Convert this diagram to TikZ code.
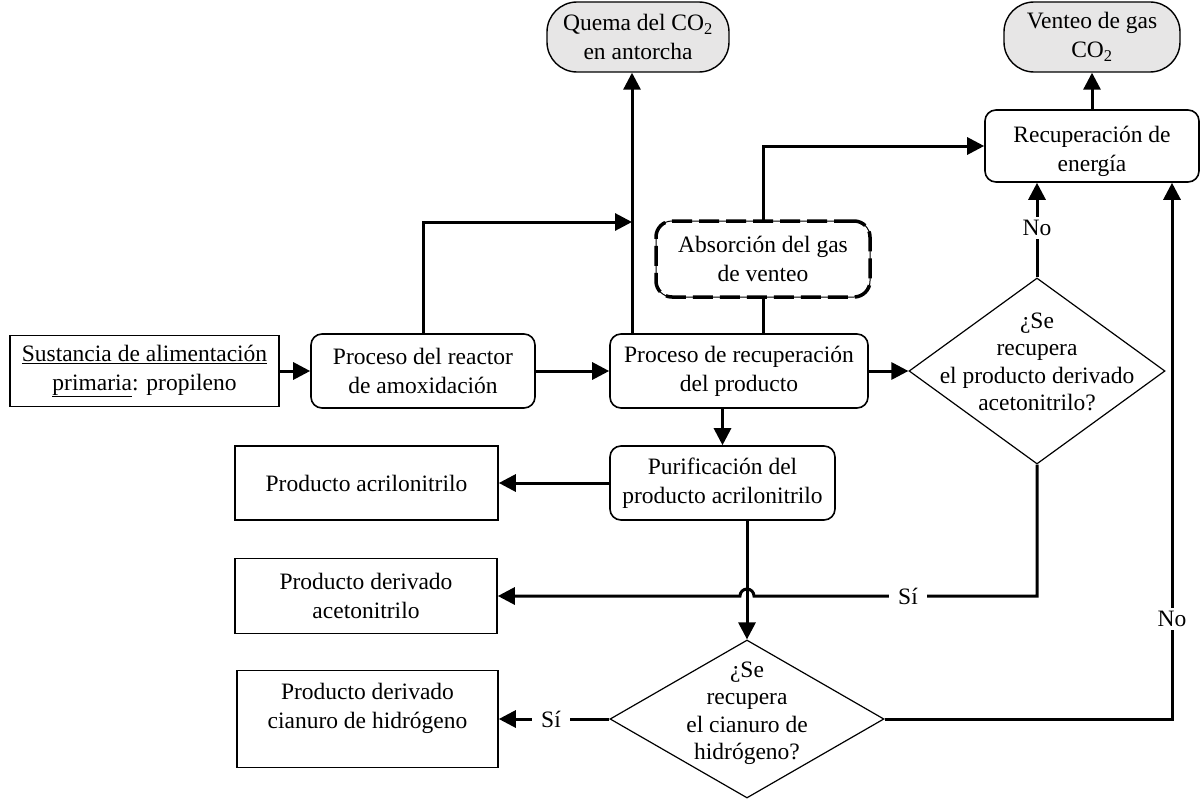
\documentclass[tikz,border=0pt]{standalone}
\usepackage{fontspec}
\setmainfont{Liberation Serif}
\usetikzlibrary{arrows.meta,shapes.geometric}
\definecolor{pillgray}{HTML}{E7E6E6}
\begin{document}
\begin{tikzpicture}[x=1pt,y=-1pt,
  every node/.style={font=\fontsize{23.5pt}{29pt}\selectfont, align=center, inner sep=0pt},
  dtext/.style={font=\fontsize{23.5pt}{27.5pt}\selectfont},
  plainbox/.style={draw, line width=1.6pt, rectangle},
  roundbox/.style={draw, line width=1.6pt, rounded corners=11pt},
  dashbox/.style={draw, line width=1pt, rounded corners=16pt,
    postaction={draw, line width=3.5pt, dash pattern=on 20pt off 7pt}},
  pill/.style={draw, line width=1.4pt, rounded corners=30pt, fill=pillgray},
  decision/.style={draw, diamond, line width=1.2pt, inner sep=0pt},
  conn/.style={line width=3pt},
  arr/.style={conn, -{Triangle[length=17pt,width=17pt]}},
  lbl/.style={fill=white, inner xsep=9pt, inner ysep=3pt},
]
\useasboundingbox (0,0) rectangle (1200,800);

% boxes
\node[plainbox, minimum width=269pt, minimum height=71pt] (sust) at (144.5,371) {\underline{Sustancia de alimentación}\\\underline{primaria}: propileno};
\node[roundbox, minimum width=224pt, minimum height=74pt] (reac) at (423,371) {Proceso del reactor\\de amoxidación};
\node[roundbox, minimum width=258pt, minimum height=74pt] (recup) at (739,371) {Proceso de recuperación\\del producto};
\node[roundbox, minimum width=225pt, minimum height=74pt] (purif) at (722.5,483) {Purificación del\\producto acrilonitrilo};
\node[dashbox, minimum width=214pt, minimum height=76pt] (absor) at (763,259) {Absorción del gas\\de venteo};
\node[roundbox, minimum width=214pt, minimum height=72pt] (energia) at (1092,146) {};
\node (energiat) at (1092,151) {Recuperación de\\energía};
\node[pill, minimum width=182pt, minimum height=70pt] (quema) at (638,37) {Quema del CO\textsubscript{2}\\en antorcha};
\node[pill, minimum width=176pt, minimum height=70pt] (venteo) at (1092,37) {Venteo de gas\\CO\textsubscript{2}};
\node[plainbox, minimum width=263pt, minimum height=74pt] (prod1) at (366.5,483) {Producto acrilonitrilo};
\node[plainbox, minimum width=262pt, minimum height=75pt] (prod2) at (366,596) {Producto derivado\\acetonitrilo};
\node[plainbox, minimum width=261pt, minimum height=97pt] (prod3) at (367.5,719) {};
\node (prod3t) at (367.5,708.5) {Producto derivado\\cianuro de hidrógeno};

% decisions
\node[decision, minimum width=256pt, minimum height=186pt] (d1) at (1037,371) {};
\node[dtext] (d1t) at (1037,362) {¿Se\\recupera\\el producto derivado\\acetonitrilo?};
\node[decision, minimum width=274pt, minimum height=158pt] (d2) at (747,719) {};
\node[dtext] (d2t) at (747,713) {¿Se\\recupera\\el cianuro de\\hidrógeno?};

% connectors
\coordinate (j1) at (632,222);
\draw[arr] (sust.east) -- (sust.east -| reac.west);
\draw[arr] (reac.east) -- (reac.east -| recup.west);
\draw[arr] (recup.east) -- (recup.east -| d1.west);
\draw[arr] (reac.north) |- (j1);
\draw[arr] (recup.north -| j1) -- (quema.south -| j1);
\draw[conn] (recup.north -| absor.south) -- (absor.south);
\draw[arr] (absor.north) |- (energia.west);
\draw[arr] (energia.north) -- (venteo.south);
\draw[arr] (d1.north) -- (d1.north |- energia.south);
\node[lbl] (no1) at (1037,228) {No};
\draw[arr] (recup.south -| purif.north) -- (purif.north);
\draw[arr] (purif.west) -- (purif.west -| prod1.east);
\draw[arr] (purif.south -| d2.north) -- (d2.north);
\coordinate (bend1) at (d1.south |- prod2.east);
\draw[arr] (d1.south) -- (bend1) -- ([xshift=7pt]d2.north |- prod2.east)
  arc[start angle=0, end angle=180, radius=7pt] -- (prod2.east);
\node[lbl] (si1) at (908,596) {Sí};
\draw[arr] (d2.west) -- (d2.west -| prod3.east);
\node[lbl] (si2) at (551,719) {Sí};
\coordinate (r2) at (1172,719);
\draw[arr] (d2.east) -- (r2) -- (r2 |- energia.south);
\node[lbl] (no2) at (1172,619) {No};
\end{tikzpicture}
\end{document}
